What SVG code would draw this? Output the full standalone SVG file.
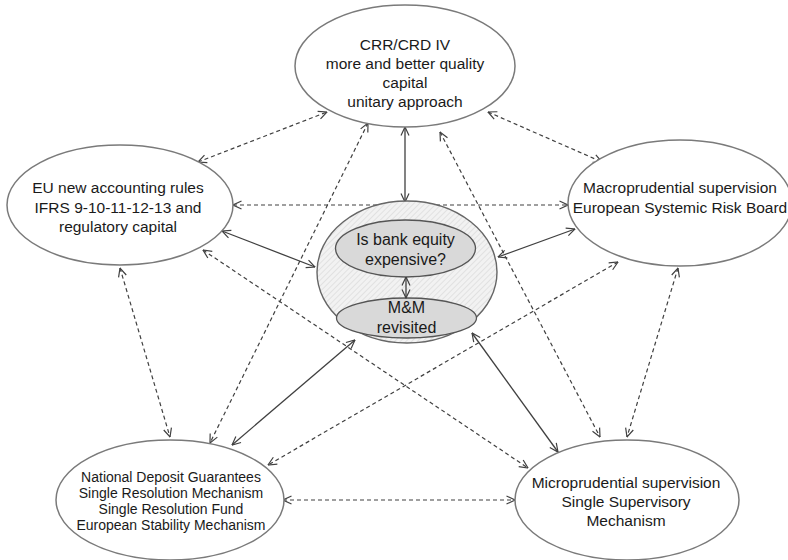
<svg xmlns="http://www.w3.org/2000/svg" width="788" height="560" viewBox="0 0 788 560">
  <defs>
    <style>
      .node { fill: #ffffff; stroke: #7a7a7a; stroke-width: 1.5; }
      .inner { fill: #d9d9d9; stroke: #555555; stroke-width: 1.3; }
      .lbl { font-family: "Liberation Sans", Arial, sans-serif; font-size: 15.5px; fill: #1a1a1a; text-anchor: middle; }
      .small { font-size: 14px; }
      .solid { fill: none; stroke: #404040; stroke-width: 1.3; marker-start: url(#arr); marker-end: url(#arr); }
      .dash { fill: none; stroke: #404040; stroke-width: 1.2; stroke-dasharray: 4 3; marker-start: url(#arr); marker-end: url(#arr); }
    </style>
    <!-- open chevron arrowhead used at both ends of every connector -->
    <marker id="arr" viewBox="0 0 10 10" refX="9.5" refY="5" markerWidth="10" markerHeight="10" markerUnits="userSpaceOnUse" orient="auto-start-reverse">
      <path d="M1,1 L9.5,5 L1,9" fill="none" stroke="#404040" stroke-width="1.2"/>
    </marker>
    <!-- light diagonal hatching for the central node -->
    <pattern id="hatch" patternUnits="userSpaceOnUse" width="4" height="4" patternTransform="rotate(45)">
      <rect width="4" height="4" fill="#f2f2f2"/>
      <line x1="0" y1="0" x2="0" y2="4" stroke="#d6d6d6" stroke-width="1.2"/>
    </pattern>
  </defs>

  <rect width="788" height="560" fill="#ffffff"/>

  <g id="connectors">
    <!-- dashed links between outer nodes -->
    <line class="dash" x1="198" y1="162" x2="327" y2="112"/>
    <line class="dash" x1="488" y1="112" x2="602" y2="162"/>
    <line class="dash" x1="233" y1="205" x2="568" y2="205"/>
    <line class="dash" x1="440" y1="132" x2="600" y2="437"/>
    <line class="dash" x1="368" y1="123" x2="210" y2="443"/>
    <line class="dash" x1="120" y1="268" x2="170" y2="437"/>
    <line class="dash" x1="678" y1="268" x2="627" y2="437"/>
    <line class="dash" x1="203" y1="250" x2="528" y2="468"/>
    <line class="dash" x1="618" y1="262" x2="268" y2="465"/>
    <line class="dash" x1="283" y1="500" x2="515" y2="500"/>
    <!-- solid links to the central node -->
    <line class="solid" x1="405" y1="127" x2="405" y2="202"/>
    <line class="solid" x1="222" y1="231" x2="315" y2="267"/>
    <line class="solid" x1="575" y1="229" x2="498" y2="257"/>
    <line class="solid" x1="232" y1="445" x2="355" y2="340"/>
    <line class="solid" x1="558" y1="452" x2="472" y2="333"/>
  </g>

  <g id="crr-crd">
    <ellipse class="node" cx="405" cy="66" rx="110" ry="61"/>
    <text class="lbl" x="405" y="50">CRR/CRD IV</text>
    <text class="lbl" x="405" y="69">more and better quality</text>
    <text class="lbl" x="405" y="88">capital</text>
    <text class="lbl" x="405" y="107">unitary approach</text>
  </g>

  <g id="accounting">
    <ellipse class="node" cx="120" cy="205" rx="113" ry="60"/>
    <text class="lbl" x="118" y="193">EU new accounting rules</text>
    <text class="lbl" x="118" y="213">IFRS 9-10-11-12-13 and</text>
    <text class="lbl" x="118" y="232">regulatory capital</text>
  </g>

  <g id="macroprudential">
    <ellipse class="node" cx="680" cy="203" rx="112" ry="63"/>
    <text class="lbl" x="680" y="193">Macroprudential supervision</text>
    <text class="lbl" x="680" y="213">European Systemic Risk Board</text>
  </g>

  <g id="resolution">
    <ellipse class="node" cx="170" cy="500" rx="114" ry="60"/>
    <text class="lbl small" x="171" y="482">National Deposit Guarantees</text>
    <text class="lbl small" x="171" y="498">Single Resolution Mechanism</text>
    <text class="lbl small" x="171" y="514">Single Resolution Fund</text>
    <text class="lbl small" x="171" y="530">European Stability Mechanism</text>
  </g>

  <g id="microprudential">
    <ellipse class="node" cx="627" cy="500" rx="112" ry="60"/>
    <text class="lbl" x="626" y="488">Microprudential supervision</text>
    <text class="lbl" x="626" y="507">Single Supervisory</text>
    <text class="lbl" x="626" y="526">Mechanism</text>
  </g>

  <g id="core">
    <ellipse cx="407" cy="272" rx="90" ry="71" fill="url(#hatch)" stroke="#666666" stroke-width="1.4"/>
    <g id="equity-cost">
      <ellipse class="inner" cx="405.5" cy="248.5" rx="70" ry="28.5"/>
      <text class="lbl" x="405.5" y="245" style="font-size:16px">Is bank equity</text>
      <text class="lbl" x="405.5" y="265" style="font-size:16px">expensive?</text>
    </g>
    <g id="mm-revisited">
      <ellipse class="inner" cx="406.5" cy="318" rx="70" ry="20"/>
      <text class="lbl" x="406.5" y="313" style="font-size:16px">M&amp;M</text>
      <text class="lbl" x="406.5" y="333" style="font-size:16px">revisited</text>
    </g>
    <line class="solid" x1="406" y1="277" x2="406" y2="298"/>
  </g>
</svg>
